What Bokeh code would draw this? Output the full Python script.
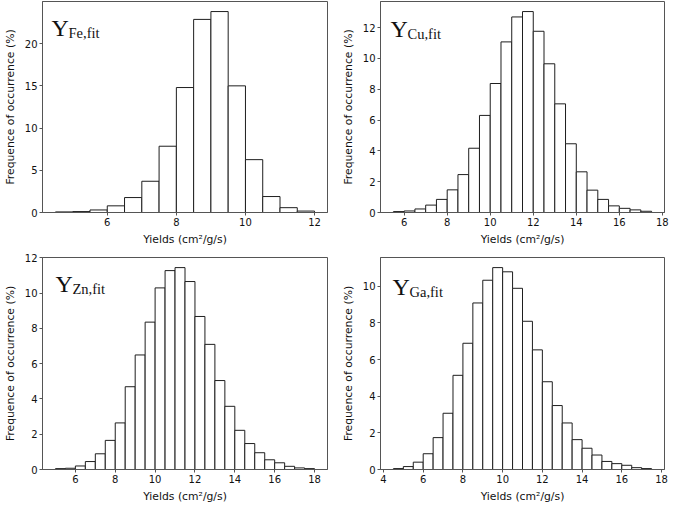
import numpy as np
from bokeh.plotting import figure
from bokeh.layouts import column, row
from bokeh.models import Label, FixedTicker
from bokeh.embed import file_html
from bokeh.resources import INLINE

# ---- data (percent of occurrence per 0.5-wide bin) ----
bin_width = 0.5

fe_start = 4.5
fe_freq = [0.07, 0.11, 0.30, 0.79, 1.77, 3.70, 7.85, 14.8, 22.87, 23.8,
           15.0, 6.26, 1.89, 0.57, 0.17]

cu_start = 5.5
cu_freq = [0.06, 0.10, 0.23, 0.48, 0.85, 1.47, 2.46, 4.17, 6.30, 8.37,
           11.07, 12.69, 13.04, 11.76, 9.65, 7.05, 4.46, 2.64, 1.45, 0.85,
           0.43, 0.27, 0.17, 0.08]

zn_start = 5.0
zn_freq = [0.05, 0.07, 0.20, 0.45, 0.89, 1.65, 2.64, 4.69, 6.49, 8.35,
           10.29, 11.27, 11.44, 10.65, 8.67, 7.09, 5.04, 3.58, 2.22, 1.47,
           0.95, 0.55, 0.38, 0.18, 0.09, 0.05]

ga_start = 4.5
ga_freq = [0.05, 0.16, 0.40, 0.86, 1.74, 3.07, 5.14, 6.89, 9.09, 10.33,
           11.02, 10.79, 9.89, 8.09, 6.53, 4.79, 3.49, 2.54, 1.63, 1.16,
           0.79, 0.44, 0.32, 0.23, 0.10, 0.05]

fe_yticks = [0, 5, 10, 15, 20]
cu_yticks = [0, 2, 4, 6, 8, 10, 12]
zn_yticks = [0, 2, 4, 6, 8, 10, 12]
ga_yticks = [0, 2, 4, 6, 8, 10]
fe_xticks = [6, 8, 10, 12]
cu_xticks = [6, 8, 10, 12, 14, 16, 18]
zn_xticks = [6, 8, 10, 12, 14, 16, 18]
ga_xticks = [4, 6, 8, 10, 12, 14, 16, 18]

x_label = "Yields (cm²/g/s)"
y_label = "Frequence of occurrence (%)"


def make_panel(start, freq, xticks, yticks, elem, width, border_left, border_right,
               height, border_top, border_bottom, frame_h, lab_dx, lab_base):
    freq = np.asarray(freq, dtype=float)
    left = start + bin_width * np.arange(len(freq))
    right = left + bin_width
    lo, hi = left[0], right[-1]
    pad = 0.05 * (hi - lo)
    p = figure(width=width, height=height, output_backend="svg", toolbar_location=None,
               x_range=(lo - pad, hi + pad), y_range=(0, freq.max() * 1.05),
               min_border_left=border_left, min_border_right=border_right,
               min_border_top=border_top, min_border_bottom=border_bottom)
    p.quad(left=left, right=right, bottom=0, top=freq, fill_color="white",
           line_color="#1e1e1e", line_width=1.0)
    p.xgrid.visible = False
    p.ygrid.visible = False
    p.outline_line_color = "#555555"
    p.outline_line_width = 1
    p.background_fill_color = "white"
    p.border_fill_color = "white"
    p.xaxis.ticker = FixedTicker(ticks=xticks)
    p.yaxis.ticker = FixedTicker(ticks=yticks)
    for ax in (p.xaxis, p.yaxis):
        ax.axis_line_color = "#555555"
        ax.major_tick_line_color = "#555555"
        ax.major_tick_out = 3
        ax.major_tick_in = 0
        ax.minor_tick_line_color = None
        ax.major_label_text_font = "DejaVu Sans"
        ax.major_label_text_font_size = "10px"
        ax.major_label_text_color = "#111111"
        ax.axis_label_text_font = "DejaVu Sans"
        ax.axis_label_text_font_size = "10.8px"
        ax.axis_label_text_font_style = "normal"
        ax.axis_label_text_color = "#111111"
        ax.major_label_standoff = 2
    p.xaxis.axis_label = x_label
    p.yaxis.axis_label = y_label
    p.xaxis.axis_label_standoff = 4
    p.yaxis.axis_label_standoff = 5
    ybase = frame_h - lab_base
    p.add_layout(Label(x=lab_dx, y=ybase, x_units="screen", y_units="screen",
                       text="Y", text_font="Liberation Serif", text_font_size="24px",
                       text_color="#111111", text_baseline="alphabetic"))
    p.add_layout(Label(x=lab_dx + 17, y=ybase - 5, x_units="screen", y_units="screen",
                       text=elem + ",fit", text_font="Liberation Serif",
                       text_font_size="14.5px", text_color="#111111",
                       text_baseline="alphabetic"))
    return p


p1 = make_panel(fe_start, fe_freq, fe_xticks, fe_yticks, "Fe", 338, 37, 11,
                248, 1, 34, 213, 9, 28)
p2 = make_panel(cu_start, cu_freq, cu_xticks, cu_yticks, "Cu", 331, 36, 5,
                248, 1, 34, 213, 10, 29)
p3 = make_panel(zn_start, zn_freq, zn_xticks, zn_yticks, "Zn", 338, 37, 11,
                257, 9, 35, 213, 13, 27)
p4 = make_panel(ga_start, ga_freq, ga_xticks, ga_yticks, "Ga", 331, 36, 5,
                257, 9, 35, 213, 12, 30)

layout = column(row(p1, p2), row(p3, p4))

open("out.html", "w").write(file_html(layout, INLINE))
